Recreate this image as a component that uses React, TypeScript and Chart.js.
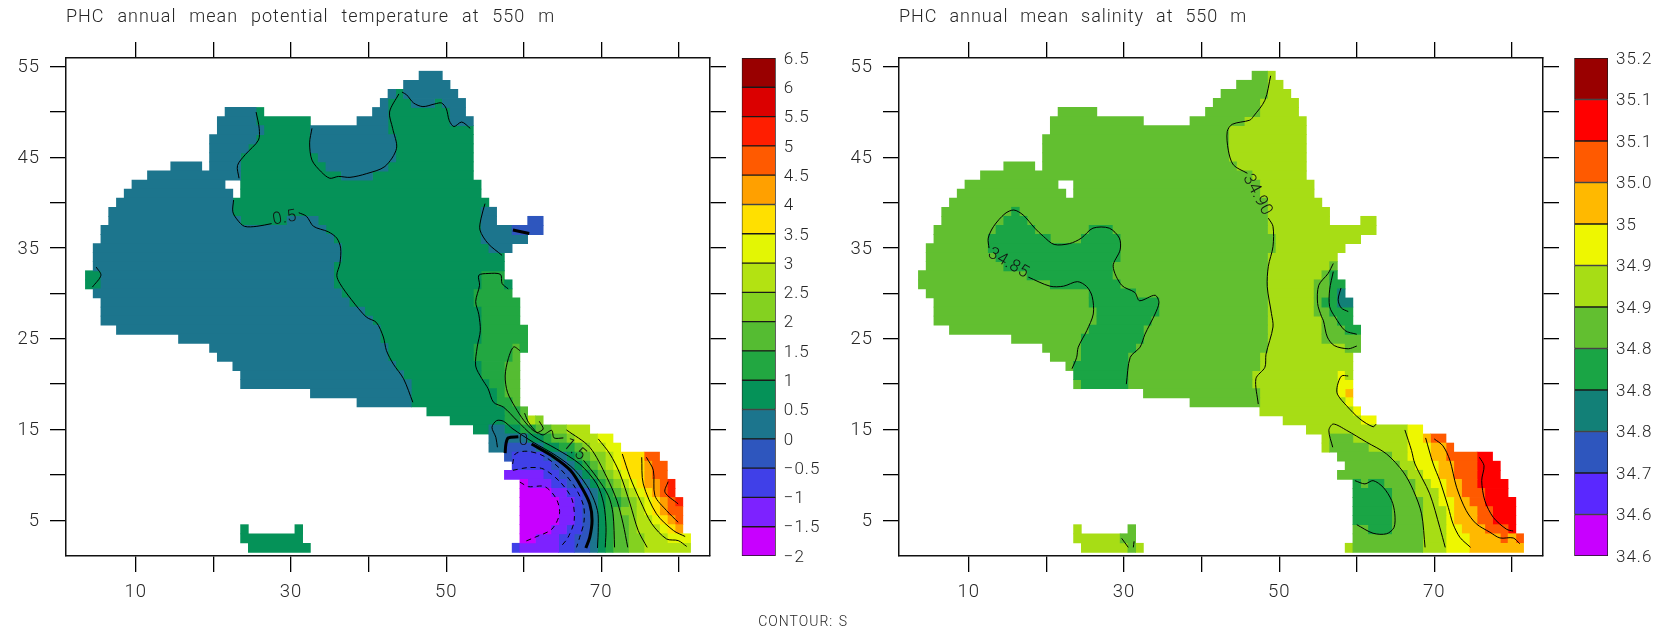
import React, { useEffect, useRef } from "react";
import { Chart, registerables } from "chart.js";

Chart.register(...registerables);

const temperatureTitle = "PHC annual mean potential temperature at 550 m";
const salinityTitle = "PHC annual mean salinity at 550 m";
const footerNote = "CONTOUR: S";

const xTickLabels = [10, 30, 50, 70];
const yTickLabels = [5, 15, 25, 35, 45, 55];

const temperatureLevels = [-2, -1.5, -1, -0.5, 0, 0.5, 1, 1.5, 2, 2.5, 3, 3.5, 4, 4.5, 5, 5.5, 6, 6.5];
const temperatureLevelLabels = ["\u22122", "\u22121.5", "\u22121", "\u22120.5", "0", "0.5", "1", "1.5", "2", "2.5", "3", "3.5", "4", "4.5", "5", "5.5", "6", "6.5"];
const temperatureColors = ["#C800FF", "#7D22FF", "#4040E8", "#2E56BE", "#1C758D", "#059258", "#22A741", "#55BC32", "#84D120", "#B3E212", "#E3F604", "#FFE000", "#FFA000", "#FF5A00", "#FF1E00", "#DB0000", "#990000"];

const salinityLevels = [34.6, 34.65, 34.7, 34.75, 34.8, 34.85, 34.9, 34.95, 35, 35.05, 35.1, 35.15, 35.2];
const salinityLevelLabels = ["34.6", "34.6", "34.7", "34.8", "34.8", "34.8", "34.9", "34.9", "35", "35.0", "35.1", "35.1", "35.2"];
const salinityColors = ["#C800FF", "#5A28FF", "#2E56BE", "#128077", "#1AA545", "#62BF30", "#A7DD15", "#EEF700", "#FFB900", "#FF5A00", "#FF0000", "#990000"];

// [row (latitude index), first column, last column, colour level]
const temperatureCells: number[][] = [
  [54,47,49,4],[53,45,50,4],[52,43,43,4],[52,44,44,5],[52,45,51,4],
  [51,42,42,4],[51,43,45,5],[51,46,48,4],[51,49,49,5],[51,50,52,4],
  [50,22,25,4],[50,26,26,5],[50,41,42,4],[50,43,50,5],[50,51,52,4],
  [49,21,25,4],[49,26,32,5],[49,39,42,4],[49,43,50,5],[49,51,53,4],
  [48,21,26,4],[48,27,32,5],[48,33,42,4],[48,43,53,5],
  [47,20,25,4],[47,26,32,5],[47,33,43,4],[47,44,53,5],
  [46,20,24,4],[46,25,32,5],[46,33,43,4],[46,44,53,5],
  [45,20,23,4],[45,24,33,5],[45,34,43,4],[45,44,53,5],
  [44,15,18,4],[44,20,23,4],[44,24,34,5],[44,35,42,4],[44,43,53,5],
  [43,12,23,4],[43,24,36,5],[43,37,40,4],[43,41,53,5],
  [42,10,21,4],[42,24,54,5],[41,9,22,4],[41,24,54,5],
  [40,8,22,4],[40,23,55,5],[39,7,22,4],[39,23,54,5],[39,55,56,4],
  [38,7,23,4],[38,24,29,5],[38,30,33,4],[38,34,54,5],[38,55,56,4],[38,61,62,3],
  [37,6,34,4],[37,35,54,5],[37,55,58,4],[37,59,62,3],
  [36,6,35,4],[36,36,54,5],[36,55,60,4],
  [35,5,36,4],[35,37,55,5],[35,56,58,4],
  [34,5,36,4],[34,37,57,5],[33,5,35,4],[33,36,57,5],
  [32,4,5,5],[32,6,35,4],[32,36,54,5],[32,55,57,6],
  [31,4,5,5],[31,6,35,4],[31,36,54,5],[31,55,57,6],[31,58,58,5],
  [30,5,36,4],[30,37,53,5],[30,54,58,6],
  [29,6,37,4],[29,38,53,5],[29,54,59,6],
  [28,6,39,4],[28,40,54,5],[28,55,59,6],
  [27,6,40,4],[27,41,54,5],[27,55,59,6],
  [26,8,41,4],[26,42,54,5],[26,55,60,6],
  [25,16,41,4],[25,42,54,5],[25,55,60,6],
  [24,20,42,4],[24,43,53,5],[24,54,58,6],[24,59,59,7],[24,60,60,6],
  [23,21,42,4],[23,43,53,5],[23,54,58,6],[23,59,59,7],
  [22,23,43,4],[22,44,54,5],[22,55,57,6],[22,58,59,7],
  [21,24,44,4],[21,45,54,5],[21,55,57,6],[21,58,59,7],
  [20,24,45,4],[20,46,55,5],[20,56,57,6],[20,58,59,7],
  [19,33,45,4],[19,46,56,5],[19,57,57,6],[19,58,59,7],
  [18,39,45,4],[18,46,56,5],[18,57,58,6],[18,59,59,7],
  [17,48,57,5],[17,58,59,6],[17,60,60,7],
  [16,51,57,5],[16,58,59,6],[16,60,60,7],[16,61,61,9],[16,62,62,8],
  [15,54,55,5],[15,56,57,4],[15,58,59,5],[15,60,61,6],[15,62,63,7],[15,64,65,8],[15,66,68,9],
  [14,56,60,4],[14,61,62,5],[14,63,63,6],[14,64,65,7],[14,66,66,8],[14,67,69,9],[14,70,71,10],
  [13,56,57,4],[13,58,61,3],[13,62,62,4],[13,63,64,5],[13,65,66,6],[13,67,67,7],[13,68,68,8],[13,69,70,9],[13,71,72,10],
  [12,58,58,3],[12,59,62,2],[12,63,63,3],[12,64,65,4],[12,66,66,5],[12,67,67,6],[12,68,68,7],[12,69,70,8],[12,71,71,9],[12,72,72,10],[12,73,75,11],[12,76,77,13],
  [11,59,63,2],[11,64,65,3],[11,66,66,4],[11,67,67,5],[11,68,68,6],[11,69,69,7],[11,70,70,8],[11,71,71,9],[11,72,72,10],[11,73,75,11],[11,76,76,12],[11,77,78,13],
  [10,58,62,1],[10,63,64,2],[10,65,66,3],[10,67,67,4],[10,68,68,5],[10,69,69,6],[10,70,70,7],[10,71,71,8],[10,72,72,9],[10,73,73,10],[10,74,75,11],[10,76,76,12],[10,77,78,13],
  [9,60,60,0],[9,61,63,1],[9,64,65,2],[9,66,67,3],[9,68,68,4],[9,69,69,5],[9,70,70,6],[9,71,71,7],[9,72,72,8],[9,73,73,9],[9,74,74,10],[9,75,75,11],[9,76,77,12],[9,78,78,13],[9,79,79,14],
  [8,60,63,0],[8,64,65,1],[8,66,67,2],[8,68,68,3],[8,69,69,4],[8,70,70,5],[8,71,71,6],[8,72,72,7],[8,73,73,8],[8,74,74,9],[8,75,75,10],[8,76,76,11],[8,77,77,12],[8,78,78,13],[8,79,79,14],
  [7,60,64,0],[7,65,66,1],[7,67,67,2],[7,68,68,3],[7,69,69,4],[7,70,70,5],[7,71,72,6],[7,73,73,7],[7,74,74,8],[7,75,75,9],[7,76,76,10],[7,77,77,11],[7,78,78,12],[7,79,79,13],[7,80,80,14],
  [6,60,64,0],[6,65,66,1],[6,67,67,2],[6,68,68,3],[6,69,69,4],[6,70,70,5],[6,71,71,6],[6,72,72,7],[6,73,74,8],[6,75,75,9],[6,76,76,10],[6,77,77,11],[6,78,78,12],[6,79,80,13],
  [5,60,64,0],[5,65,66,1],[5,67,67,2],[5,68,68,3],[5,69,69,4],[5,70,70,5],[5,71,71,6],[5,72,73,7],[5,74,74,8],[5,75,76,9],[5,77,77,10],[5,78,78,11],[5,79,79,12],[5,80,80,13],
  [4,60,63,0],[4,64,65,1],[4,66,67,2],[4,68,68,3],[4,69,69,4],[4,70,70,5],[4,71,71,6],[4,72,73,7],[4,74,74,8],[4,75,77,9],[4,78,78,10],[4,79,79,11],[4,80,80,12],
  [3,60,61,0],[3,62,64,1],[3,65,66,2],[3,67,68,3],[3,69,69,4],[3,70,70,5],[3,71,71,6],[3,72,73,7],[3,74,75,8],[3,76,78,9],[3,79,81,10],
  [1.95,59,59,2],[1.95,60,64,1],[1.95,65,66,2],[1.95,67,68,3],[1.95,69,69,4],[1.95,70,70,5],[1.95,71,71,6],[1.95,72,73,7],[1.95,74,75,8],[1.95,76,81,9],
  [4,24,24,5],[4,31,31,5],[3,24,31,5],[1.95,25,32,5],
];

const salinityCells: number[][] = [
  [54,47,48,5],[54,49,49,6],[53,45,48,5],[53,49,50,6],[52,43,48,5],[52,49,51,6],[51,42,47,5],[51,48,52,6],
  [50,22,26,5],[50,41,47,5],[50,48,52,6],[49,21,32,5],[49,39,45,5],[49,46,53,6],[48,21,43,5],[48,44,53,6],
  [47,20,43,5],[47,44,53,6],[46,20,43,5],[46,44,53,6],[45,20,43,5],[45,44,53,6],
  [44,15,18,5],[44,20,44,5],[44,45,53,6],[43,12,46,5],[43,47,53,6],
  [42,10,21,5],[42,24,47,5],[42,48,54,6],[41,9,22,5],[41,24,47,5],[41,48,54,6],
  [40,8,48,5],[40,49,55,6],[39,7,15,5],[39,16,16,4],[39,17,48,5],[39,49,56,6],
  [38,7,14,5],[38,15,17,4],[38,18,48,5],[38,49,56,6],[38,61,62,6],
  [37,6,13,5],[37,14,18,4],[37,19,25,5],[37,26,28,4],[37,29,48,5],[37,49,62,6],
  [36,6,12,5],[36,13,20,4],[36,21,24,5],[36,25,29,4],[36,30,49,5],[36,50,60,6],
  [35,5,12,5],[35,13,29,4],[35,30,49,5],[35,50,58,6],
  [34,5,13,5],[34,14,29,4],[34,30,48,5],[34,49,57,6],
  [33,5,14,5],[33,15,28,4],[33,29,48,5],[33,49,56,6],[33,57,57,5],
  [32,4,17,5],[32,18,28,4],[32,29,48,5],[32,49,55,6],[32,56,56,5],[32,57,57,4],
  [31,4,20,5],[31,21,29,4],[31,30,48,5],[31,49,54,6],[31,55,56,5],[31,57,58,4],
  [30,5,25,5],[30,26,31,4],[30,32,48,5],[30,49,54,6],[30,55,56,5],[30,57,57,4],[30,58,58,3],
  [29,6,25,5],[29,26,34,4],[29,35,48,5],[29,49,54,6],[29,55,55,5],[29,56,57,4],[29,58,59,3],
  [28,6,26,5],[28,27,34,4],[28,35,48,5],[28,49,54,6],[28,55,56,5],[28,57,59,4],
  [27,6,26,5],[27,27,33,4],[27,34,48,5],[27,49,55,6],[27,56,57,5],[27,58,59,4],
  [26,8,25,5],[26,26,32,4],[26,33,48,5],[26,49,55,6],[26,56,58,5],[26,59,60,4],
  [25,16,24,5],[25,25,32,4],[25,33,48,5],[25,49,55,6],[25,56,60,5],
  [24,20,24,5],[24,25,31,4],[24,32,48,5],[24,49,58,6],[24,59,60,5],
  [23,21,24,5],[23,25,30,4],[23,31,47,5],[23,48,59,6],
  [22,23,23,5],[22,24,30,4],[22,31,47,5],[22,48,59,6],
  [21,24,30,4],[21,31,46,5],[21,47,57,6],[21,58,58,7],[21,59,59,6],
  [20,24,24,5],[20,25,30,4],[20,31,46,5],[20,47,57,6],[20,58,59,7],
  [19,33,47,5],[19,48,57,6],[19,58,58,7],[19,59,59,8],
  [18,39,47,5],[18,48,58,6],[18,59,59,7],
  [17,48,59,6],[17,60,60,7],[16,51,60,6],[16,61,62,7],[15,54,66,6],[15,67,68,7],
  [14,56,56,6],[14,57,59,5],[14,60,66,6],[14,67,68,7],[14,69,69,8],[14,70,71,9],
  [13,56,56,6],[13,57,61,5],[13,62,66,6],[13,67,69,7],[13,70,71,8],[13,72,72,9],
  [12,58,64,5],[12,65,66,6],[12,67,69,7],[12,70,71,8],[12,72,75,9],[12,76,77,10],
  [11,59,65,5],[11,66,67,6],[11,68,70,7],[11,71,72,8],[11,73,75,9],[11,76,78,10],
  [10,58,66,5],[10,67,68,6],[10,69,70,7],[10,71,72,8],[10,73,75,9],[10,76,78,10],
  [9,60,60,4],[9,61,61,5],[9,62,63,4],[9,64,67,5],[9,68,69,6],[9,70,71,7],[9,72,73,8],[9,74,75,9],[9,76,79,10],
  [8,60,64,4],[8,65,67,5],[8,68,70,6],[8,71,71,7],[8,72,73,8],[8,74,76,9],[8,77,79,10],
  [7,60,64,4],[7,65,68,5],[7,69,70,6],[7,71,72,7],[7,73,74,8],[7,75,76,9],[7,77,80,10],
  [6,60,64,4],[6,65,68,5],[6,69,71,6],[6,72,72,7],[6,73,75,8],[6,76,77,9],[6,78,80,10],
  [5,60,64,4],[5,65,68,5],[5,69,71,6],[5,72,72,7],[5,73,75,8],[5,76,77,9],[5,78,80,10],
  [4,60,61,5],[4,62,64,4],[4,65,68,5],[4,69,71,6],[4,72,73,7],[4,74,76,8],[4,77,79,9],[4,80,80,10],
  [3,60,68,5],[3,69,71,6],[3,72,74,7],[3,75,78,8],[3,79,79,9],[3,80,80,8],[3,81,81,9],
  [1.95,59,59,6],[1.95,60,68,5],[1.95,69,71,6],[1.95,72,74,7],[1.95,75,81,8],
  [4,24,24,6],[4,31,31,5],[3,24,29,6],[3,30,31,5],[1.95,25,30,6],[1.95,31,31,5],[1.95,32,32,6],
];

// Contours as [longitude index, latitude index] vertices
const temperatureContours: number[][][] = [
  [[25.5,50],[25.9,48.2],[25.8,46.9],[24.1,45.3],[23.1,44.1],[23.3,42.7]],
  [[22.6,40.3],[22.5,39],[23.1,38.1],[24,37.4],[25.6,37.4],[27.5,37.7]],
  [[31,38.9],[32,38.5],[32.9,37.4],[34.8,36.8],[35.9,36.1],[36.4,35],[36.3,33.3],[35.9,32],[36.3,31.1],[37.8,29.3],[39.7,27.4],[41,26.8],[41.9,25.2],[42.3,23.7],[43.2,22.2],[44.5,20.6],[45.7,18]],
  [[32.7,48.2],[32.4,46.6],[32.7,44.7],[33.9,43.4],[35,42.7],[36.1,42.9],[37.6,42.8],[39.7,43.2],[42.1,44],[43.6,46],[43.1,48.2],[42.7,50],[43.9,52]],
  [[44.3,52.2],[44.9,51.9],[45.8,51],[47,50.6],[48.55,50.9],[49.4,51],[50,50.4],[50.4,49.05],[51,48.4],[52,48.9],[53.1,48.2]],
  [[4.9,32.9],[5.5,32],[4.4,30.7]],
  [[55,39.9],[54.5,38.3],[54.35,37],[55.4,35.5],[57.2,34.2]],
  [[58,30.5],[57.2,31.1],[57,32.1],[55.4,32.2],[54.2,32],[54.3,30.9],[53.8,29.1],[54.2,27.7],[54.4,25.9],[54,24.1],[53.8,22],[54.6,20.6],[55.4,19.5],[56.1,18],[57.4,17.45],[59.1,16],[61.2,14.3],[64.2,12.86],[67.2,11.2],[69.4,9],[70.3,6.8],[70.6,4.2],[70.5,2]],
  [[56.6,13.04],[56.4,14.14],[55.9,15.24],[56.5,15.98],[57.4,15.9],[58.6,15.06],[61.2,13.6],[64.2,12.1],[66.6,10.5],[68.5,8.26],[69.5,6.06],[69.6,4.2],[69.5,1.94]],
  [[59.5,23.7],[58.7,24.1],[58,22.8],[57.6,20.9],[57.9,19.1],[58.9,17.45],[60,16],[61.2,14.9],[61.9,14.6],[62.5,14.4],[63.6,14.9],[63.9,14.07],[65.1,14.07]],
  [[67.7,11.6],[69.4,9.73],[70.9,7.7],[71.5,5.7],[71.7,2]],
  [[65.5,14.95],[68.5,13.04],[70.7,9.73],[72,7.16],[72.8,4.6],[73.4,2]],
  [[69.6,13.96],[71.1,12.3],[72.4,10.1],[73.7,6.8],[74.75,3.85],[75.9,2]],
  [[72.7,12.3],[73.7,9.73],[75,7.16],[76.5,4.6],[78.4,2.93],[79.9,2.75],[81,2.1]],
  [[75.2,11.94],[75.4,9],[77.1,5.7],[79.3,3.85],[80.8,3.2]],
  [[75.8,11.94],[76.7,10.5],[76.9,7.7],[78.4,6.06],[79.9,4.77]],
  [[78.6,9.25],[78.2,8.08],[79.9,6.79]],
  [[60.1,16.8],[60.6,15.8],[61.7,14.6]],
  [[62,15.9],[62.5,15.06],[61.7,14.6]],
];
const temperatureZeroContours: number[][][] = [
  [[58.6,37],[60.7,36.6]],
  [[57.6,12.4],[57.7,13.4],[58,14.07],[59.3,14.2]],
  [[61,13.4],[63.8,12],[66,10.5],[67.45,8.63],[68.5,6.8],[68.8,4.96],[68.5,3.1],[68,1.94]],
];
const temperatureNegativeContours: number[][][] = [
  [[58.56,11.2],[58.9,12.3],[60.4,12.6],[62.5,12.1],[64.7,10.65],[66.6,8.63],[67.7,6.6],[67.75,4.77],[67.2,3.1],[66.8,2]],
  [[58.6,10.5],[60.6,10.8],[62.5,10.65],[64.7,9.2],[66.2,7.34],[66.5,4.96],[65.7,3.1],[64.7,2]],
  [[59.5,9.2],[60.6,8.7],[62.7,8.7],[64.2,7.34],[64.6,5.7],[63.6,4],[61.4,3.1],[60,2.6]],
];
const salinityContours: number[][][] = [
  [[12.6,35],[12.5,36.1],[13.2,37.4],[14.66,38.8],[15.8,39.2],[17,38.65],[18.5,37.2],[19.6,36.3],[21,35.4],[23,35.5],[24.5,36.1],[26,37.2],[28.1,37.2],[29.4,36.1],[29.5,34.8],[28.6,33],[29.7,30.9],[31.4,30.1],[32,29.2],[34,29.8],[34.5,29],[34,27.74],[32.7,25.5],[32.06,24.07],[30.8,22.96],[30.3,20]],
  [[17.67,31.8],[20.46,30.8],[22.2,30.8],[24,31.3],[25.2,30.75],[25.9,29.65],[26.04,27.74],[25.2,25.9],[24.1,24.07],[23.9,22.96],[23.3,21.7]],
  [[48.9,54],[48.16,51.3],[46.66,49.5],[46.2,49.1],[43.95,48.65],[43.3,47.84],[43.44,45.8],[44.1,44.17],[45.9,43.25]],
  [[48.6,38.3],[49.2,37.4],[49.2,35.16],[48.6,33],[48.46,30.75],[49,27.8],[49.2,26.3],[48.3,23.3],[48.16,21.86],[47,20.6],[47.3,17.8]],
  [[56.97,33.3],[56.3,32.2],[55.1,30.9],[54.95,28.9],[55.46,27.44],[55.7,27],[56.2,25.2],[57.1,24.25],[58.9,23.9],[60,24.2]],
  [[56.97,32.4],[56.5,30.4],[56.5,28.55],[57.2,27.4],[58.5,25.9],[60,25.5]],
  [[57.96,30.6],[57.6,29.3],[58,28.4],[58.9,28]],
  [[58.9,20.9],[58.04,20.9],[57.5,19.84],[57.5,18.9],[58.7,17.6],[60.4,16.16],[62.1,15.3],[62.5,15.6]],
  [[56.9,13.04],[56.4,14.9],[56.97,15.6],[58.7,14.9],[61.26,13.6],[63.84,12.3],[66,10.3],[67.3,8.26],[68.35,5.7],[68.8,2]],
  [[66.2,14.95],[67.06,12.67],[67.5,11.2],[69.4,7.9],[70.7,4.2],[71.4,2]],
  [[68.87,14.07],[69.85,11.2],[70.7,9.36],[71.8,6.4],[72.4,4.6],[73.3,3.1],[74.67,2]],
  [[69.98,13.96],[71.1,13.2],[72,11.6],[72.86,8.63],[74.1,6.06],[75.4,4.6],[77.16,3.67],[78.45,3.04],[80.16,3.04],[81,2.4]],
  [[75.8,11.94],[76.4,11],[76.1,9.36],[76.5,7.16],[77.6,5.3],[79.3,4],[80.16,3.8]],
  [[59.76,9.36],[61.05,9],[62.1,9.36],[63.4,8.63],[64.5,7.16],[64.9,5.7],[64.8,4.2],[63.84,3.5],[62.1,3.56],[60,4.5]],
  [[29.7,3],[30.55,2]],
  [[31.3,2.67],[31.2,2]],
];

// Contour labels: [text, longitude index, latitude index, angle]
const temperatureContourLabels: [string, number, number, number][] = [
  ["0.5", 29.2, 38.3, -10],
  ["0", 60.0, 13.8, 0],
  ["1.5", 66.5, 12.74, 40],
];
const salinityContourLabels: [string, number, number, number][] = [
  ["34.90", 47.17, 40.86, 62],
  ["34.85", 15.1, 33.3, 30],
];

const FONT = "Roboto";
const INK = "#262626";

function contourDatasets(lines: number[][][], width: number, dash: number[]) {
  return lines.map((line) => ({
    type: "scatter",
    showLine: true,
    pointRadius: 0,
    borderColor: "#000",
    borderWidth: width,
    borderDash: dash,
    tension: 0.3,
    data: line.map(([x, y]) => ({ x, y })),
  }));
}

function cellDatasets(cells: number[][], colors: string[]) {
  return colors.map((color, level) => ({
    type: "bar",
    indexAxis: "y",
    grouped: false,
    barThickness: 9.2,
    backgroundColor: color,
    borderWidth: 0,
    data: cells
      .filter((c) => c[3] === level)
      .map(([row, from, to]) => ({ y: row, x: [from - 0.5, to + 0.5] })),
  }));
}

// Titles are painted before the datasets, tick labels after them.
const spacingPlugin = (titleLetter: string, word: string, tickLetter: string) => ({
  id: "spacing",
  beforeDraw(chart: any) {
    chart.ctx.letterSpacing = titleLetter;
    chart.ctx.wordSpacing = word;
  },
  beforeDatasetsDraw(chart: any) {
    chart.ctx.letterSpacing = tickLetter;
    chart.ctx.wordSpacing = "0px";
  },
});

const contourLabelPlugin = (labels: [string, number, number, number][]) => ({
  id: "contourLabels",
  afterDatasetsDraw(chart: any) {
    const { ctx, scales } = chart;
    for (const [text, x, y, angle] of labels) {
      ctx.save();
      ctx.translate(scales.x.getPixelForValue(x), scales.y.getPixelForValue(y));
      ctx.rotate((angle * Math.PI) / 180);
      ctx.font = `300 17px ${FONT}`;
      ctx.fillStyle = "#111";
      ctx.textAlign = "center";
      ctx.textBaseline = "middle";
      ctx.letterSpacing = "0.5px";
      ctx.fillText(text, 0, 0);
      ctx.restore();
    }
  },
});

function panelConfig(o: {
  title: string;
  titleSpacing: string;
  wordSpacing: string;
  width: number;
  areaLeft: number;
  areaRight: number;
  datasets: any[];
  labels: [string, number, number, number][];
}) {
  const titleH = 30;
  const tickFont = { family: FONT, size: 18.5, weight: "300" };
  const grid = { offset: false, drawOnChartArea: false, drawTicks: true, tickLength: 16, tickColor: "#000", lineWidth: 1.3 };
  const border = { color: "#111", width: 1.5 };
  const fitH = (h: number) => (s: any) => { s.height = h; };
  const fitW = (w: number) => (s: any) => { s.width = w; };
  return {
    type: "scatter",
    data: { datasets: o.datasets },
    plugins: [spacingPlugin(o.titleSpacing, o.wordSpacing, "1px"), contourLabelPlugin(o.labels)],
    options: {
      animation: false,
      responsive: false,
      maintainAspectRatio: false,
      events: [],
      layout: { padding: 0 },
      plugins: {
        legend: { display: false },
        tooltip: { enabled: false },
        title: {
          display: true,
          text: o.title,
          align: "start",
          fullSize: false,
          color: INK,
          font: { family: FONT, size: 18, weight: "300", lineHeight: 1 },
          padding: { top: 8, bottom: 4 },
        },
      },
      scales: {
        x: {
          type: "linear", position: "bottom", min: 1, max: 84, offset: false, grid, border,
          ticks: { stepSize: 10, includeBounds: false, autoSkip: false, maxRotation: 0, padding: 9, color: INK, font: tickFont,
            callback: (v: number) => (xTickLabels.includes(v) ? String(v) : "") },
          afterFit: fitH(78),
        },
        x2: {
          type: "linear", position: "top", min: 1, max: 84, offset: false, grid, border,
          ticks: { stepSize: 10, includeBounds: false, autoSkip: false, maxRotation: 0, callback: () => "" },
          afterFit: fitH(58 - titleH),
        },
        y: {
          type: "linear", position: "left", min: 1.05, max: 55.96, offset: false, grid, border,
          ticks: { stepSize: 5, includeBounds: false, autoSkip: false, padding: 10, labelOffset: 1, color: INK, font: tickFont,
            callback: (v: number) => (yTickLabels.includes(v) ? String(v) : "") },
          afterFit: fitW(o.areaLeft),
        },
        y2: {
          type: "linear", position: "right", min: 1.05, max: 55.96, offset: false, grid, border,
          ticks: { stepSize: 5, includeBounds: false, autoSkip: false, callback: () => "" },
          afterFit: fitW(o.width - o.areaRight),
        },
      },
    },
  };
}

function colorbarConfig(o: { levels: number[]; labels: string[]; colors: string[]; step: number; padLeft: number; rightW: number; note?: string }) {
  return {
    type: "bar",
    data: {
      labels: [""],
      datasets: o.colors.map((color, i) => ({
        data: [[o.levels[i], o.levels[i + 1]]],
        backgroundColor: color,
        borderColor: "#1a1a1a",
        borderWidth: 1,
        borderSkipped: false,
        barPercentage: 1,
        categoryPercentage: 1,
        grouped: false,
      })),
    },
    plugins: [spacingPlugin("1px", "1px", "0px")],
    options: {
      animation: false,
      responsive: false,
      maintainAspectRatio: false,
      events: [],
      layout: { padding: { left: o.padLeft, top: 58, bottom: o.note ? 0 : 78 } },
      plugins: {
        legend: { display: false },
        tooltip: { enabled: false },
        title: { display: false },
        subtitle: {
          display: !!o.note,
          text: o.note || "",
          align: "end",
          position: "bottom",
          color: INK,
          font: { family: FONT, size: 14, weight: "300", lineHeight: 1 },
          padding: { top: 59, bottom: 5 },
        },
      },
      scales: {
        x: { display: false },
        y: {
          position: "right",
          min: o.levels[0],
          max: o.levels[o.levels.length - 1],
          grid: { display: false, drawTicks: false },
          border: { display: false },
          ticks: {
            stepSize: o.step, autoSkip: false, padding: 8, labelOffset: 1.5, color: INK,
            font: { family: FONT, size: 17, weight: "300" },
            callback: (_v: number, i: number) => o.labels[i],
          },
          afterFit: (s: any) => { s.width = o.rightW; },
        },
      },
    },
  };
}

export default function App() {
  const leftRef = useRef<HTMLCanvasElement>(null);
  const rightRef = useRef<HTMLCanvasElement>(null);
  const leftBarRef = useRef<HTMLCanvasElement>(null);
  const rightBarRef = useRef<HTMLCanvasElement>(null);

  useEffect(() => {
    const charts = [
      new Chart(leftRef.current as any, panelConfig({
        title: temperatureTitle, titleSpacing: "1px", wordSpacing: "7.5px", width: 849, areaLeft: 66, areaRight: 710,
        datasets: [
          ...contourDatasets(temperatureZeroContours, 3, []),
          ...contourDatasets(temperatureContours, 1, []),
          ...contourDatasets(temperatureNegativeContours, 1, [5, 4]),
          ...cellDatasets(temperatureCells, temperatureColors),
        ],
        labels: temperatureContourLabels,
      }) as any),
      new Chart(rightRef.current as any, panelConfig({
        title: salinityTitle, titleSpacing: "1px", wordSpacing: "6.5px", width: 812, areaLeft: 49, areaRight: 693,
        datasets: [
          ...contourDatasets(salinityContours, 1, []),
          ...cellDatasets(salinityCells, salinityColors),
        ],
        labels: salinityContourLabels,
      }) as any),
      new Chart(leftBarRef.current as any, colorbarConfig({
        levels: temperatureLevels, labels: temperatureLevelLabels, colors: temperatureColors, step: 0.5, padLeft: 11.7, rightW: 72.3, note: footerNote,
      }) as any),
      new Chart(rightBarRef.current as any, colorbarConfig({
        levels: salinityLevels, labels: salinityLevelLabels, colors: salinityColors, step: 0.05, padLeft: 14.3, rightW: 54,
      }) as any),
    ];
    return () => charts.forEach((c) => c.destroy());
  }, []);

  const abs = (left: number): React.CSSProperties => ({ position: "absolute", left, top: 0, display: "block" });
  return (
    <div style={{ position: "absolute", left: 0, top: 0, width: 1662, height: 634, overflow: "hidden", background: "#fff" }}>
      <canvas ref={leftRef} width={849} height={634} style={abs(0)} />
      <canvas ref={rightRef} width={812} height={634} style={abs(850)} />
      <canvas ref={leftBarRef} width={118} height={634} style={abs(730)} />
      <canvas ref={rightBarRef} width={102} height={634} style={abs(1560)} />
    </div>
  );
}
